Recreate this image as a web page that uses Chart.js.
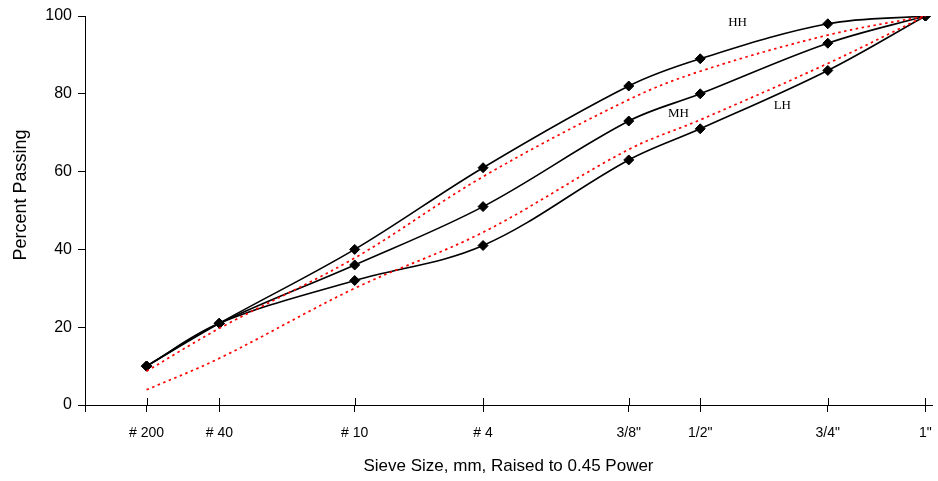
<!DOCTYPE html>
<html>
<head>
<meta charset="utf-8">
<script src="https://cdn.jsdelivr.net/npm/chart.js@4.4.0/dist/chart.umd.min.js"></script>
<style>
  html, body { margin: 0; padding: 0; background: #fff; }
  #wrap { width: 938px; height: 481px; }
</style>
</head>
<body>
<div id="wrap"><canvas id="grading"></canvas></div>
<script>
// sieve openings (mm) and their names on the axis
var sieveMm = [0.075, 0.425, 2.0, 4.75, 9.5, 12.5, 19.0, 25.0];
var sieveNames = ["# 200", "# 40", "# 10", "# 4", '3/8"', '1/2"', '3/4"', '1"'];

// percent passing
var hh = [10, 21, 40, 61, 82, 89, 98, 100];
var mh = [10, 21, 36, 51, 73, 80, 93, 100];
var lh = [10, 21, 32, 41, 63, 71, 86, 100];
// the two red dotted lines
var redUpper = [8.7, 19.7, 37.8, 58.7, 78.5, 85.8, 95.1, 100];
var redLower = [3.9, 12.0, 30.0, 44.4, 65.7, 73.3, 87.8, 100];

var yTicks = [0, 20, 40, 60, 80, 100];

// curve names written next to the lines
var curveNames = ["HH", "MH", "LH"];

// x axis is sieve size raised to 0.45
var sieveX = sieveMm.map(function (d) { return Math.pow(d, 0.45); });
var xTicks = [0].concat(sieveX);
var xTickNames = [""].concat(sieveNames);

function pts(vals) {
  return vals.map(function (v, i) { return { x: sieveX[i], y: v }; });
}

function redSet(vals) {
  return {
    data: pts(vals),
    showLine: true,
    borderColor: "#ff0000",
    borderWidth: 1.7,
    borderDash: [2.5, 3.5],
    pointRadius: 0,
    tension: 0.35,
    fill: false
  };
}

function blackSet(vals) {
  return {
    data: pts(vals),
    showLine: true,
    borderColor: "#000",
    borderWidth: 1.6,
    pointStyle: "rectRot",
    pointRadius: 5,
    pointBackgroundColor: "#000",
    pointBorderColor: "#000",
    pointBorderWidth: 1,
    tension: 0.35,
    fill: false
  };
}

// where the curve names go, in data units
var notes = [
  { x: 3.305, y: 98.3 },
  { x: 3.006, y: 74.8 },
  { x: 3.532, y: 77.1 }
];

var extras = {
  id: "extras",
  afterDraw: function (chart) {
    var ctx = chart.ctx;
    var xs = chart.scales.x, ys = chart.scales.y;
    ctx.save();
    // x ticks cross the axis: draw the part above it
    ctx.strokeStyle = "#000";
    ctx.lineWidth = 1;
    xs.ticks.forEach(function (t) {
      var px = Math.round(xs.getPixelForValue(t.value)) + 0.5;
      ctx.beginPath();
      ctx.moveTo(px, ys.bottom - 7);
      ctx.lineTo(px, ys.bottom);
      ctx.stroke();
    });
    // curve names
    ctx.fillStyle = "#000";
    ctx.font = "13px 'Liberation Serif', serif";
    ctx.textAlign = "center";
    ctx.textBaseline = "middle";
    curveNames.forEach(function (n, i) {
      ctx.fillText(n, xs.getPixelForValue(notes[i].x), ys.getPixelForValue(notes[i].y));
    });
    // y axis title
    ctx.font = "18px 'Liberation Sans', Arial, sans-serif";
    ctx.translate(21, 195);
    ctx.rotate(-Math.PI / 2);
    ctx.fillText("Percent Passing", 0, 0);
    ctx.restore();
  }
};

new Chart(document.getElementById("grading"), {
  type: "scatter",
  data: {
    datasets: [
      redSet(redUpper),
      redSet(redLower),
      blackSet(hh),
      blackSet(mh),
      blackSet(lh)
    ]
  },
  options: {
    responsive: true,
    maintainAspectRatio: false,
    animation: false,
    events: [],
    layout: { padding: { top: 16, right: 4, left: 0, bottom: 0 } },
    plugins: {
      legend: { display: false },
      tooltip: { enabled: false }
    },
    scales: {
      x: {
        type: "linear",
        min: 0,
        max: 4.29,
        afterBuildTicks: function (s) {
          s.ticks = xTicks.map(function (v) { return { value: v }; });
        },
        afterFit: function (s) {
          s.height = 76;
          s.paddingLeft = 0;
          s.paddingRight = 0;
        },
        grid: { drawOnChartArea: false, tickLength: 7, color: "#000", lineWidth: 1 },
        border: { color: "#000", width: 1 },
        ticks: {
          autoSkip: false,
          maxRotation: 0,
          padding: 13,
          color: "#000",
          font: { family: "'Liberation Sans', Arial, sans-serif", size: 14 },
          callback: function (v, i) { return xTickNames[i]; }
        },
        title: {
          display: true,
          text: "Sieve Size, mm, Raised to 0.45 Power",
          color: "#000",
          font: { family: "'Liberation Sans', Arial, sans-serif", size: 17 },
          padding: { top: 0, bottom: 4 }
        }
      },
      y: {
        min: 0,
        max: 100,
        afterBuildTicks: function (s) {
          s.ticks = yTicks.map(function (v) { return { value: v }; });
        },
        afterFit: function (s) {
          s.width = 85;
          s.paddingTop = 0;
          s.paddingBottom = 0;
        },
        grid: { drawOnChartArea: false, tickLength: 7, color: "#000", lineWidth: 1 },
        border: { color: "#000", width: 1 },
        ticks: {
          padding: 6,
          color: "#000",
          font: { family: "'Liberation Sans', Arial, sans-serif", size: 16 }
        }
      }
    }
  },
  plugins: [extras]
});
</script>
</body>
</html>
